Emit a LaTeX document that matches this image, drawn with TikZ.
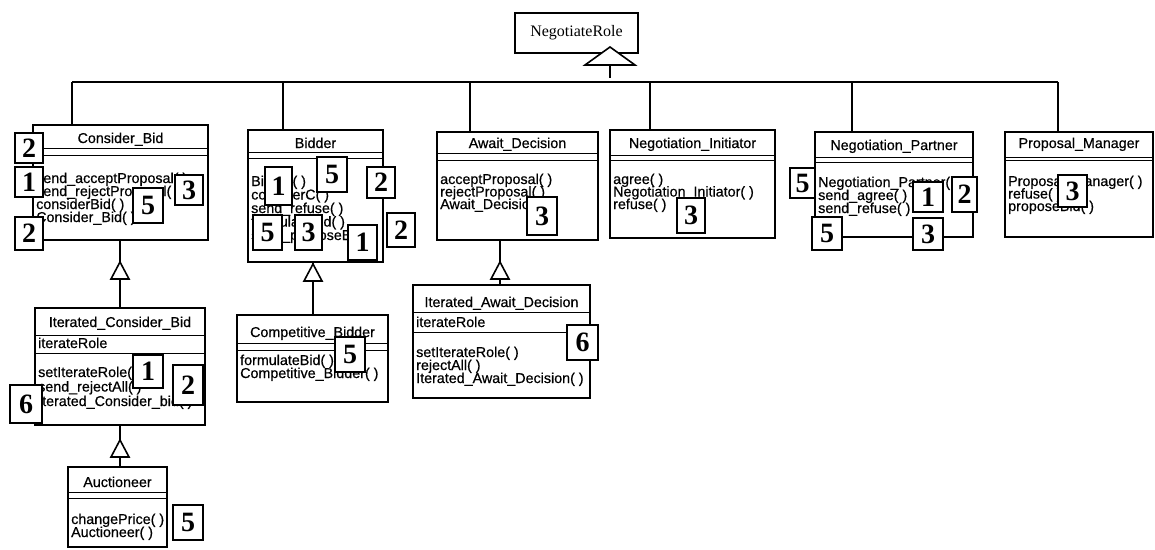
\documentclass[tikz,border=0pt]{standalone}
\usepackage{fontspec}
\setmainfont{Liberation Serif}
\newfontfamily\uisans{Liberation Sans}[FakeBold=0.6]
\usetikzlibrary{calc}

\tikzset{
  cls/.style={draw, line width=2.6pt, outer sep=0pt, inner sep=0pt},
  rootbox/.style={draw, line width=1.4pt, outer sep=0pt, inner sep=0pt,
    font=\fontsize{16}{16}\selectfont},
  ttl/.style={font=\uisans\fontsize{14.3}{14}\selectfont, inner sep=0pt, anchor=base},
  meth/.style={font=\uisans\fontsize{14.3}{14}\selectfont, inner sep=0pt, anchor=base west},
  sepline/.style={line width=0.9pt},
  conn/.style={line width=2pt},
  tag/.style={draw, fill=white, line width=1.3pt, inner sep=0pt, outer sep=0pt,
    font=\bfseries\fontsize{28}{28}\selectfont},
  tri/.style={draw, fill=white, line width=1.6pt, line join=miter}
}

% class rectangle: name, x1, y1, x2, y2, title, title baseline offset
\newcommand\UClass[7]{%
  \node[cls, anchor=north west, minimum width={#4-#2}, minimum height={#5-#3}]
    (#1) at (#2,#3) {};
  \node[ttl] (#1-t) at ($(#1.north)+(0,#7)$) {#6};}
% horizontal compartment line at an offset below the top edge
\newcommand\USep[2]{%
  \draw[sepline] ($(#1.north west)+(0,#2)$) -- ($(#1.north east)+(0,#2)$);}
% list of members: name, x, first baseline, step, items
\newcommand\UMeth[5]{%
  \foreach \t [count=\i from 0] in {#5}
    \node[meth] (#1-m\i) at (#2, #3+#4*\i) {\t};}
% numbered tag: name, x1, y1, x2, y2, digit
\newcommand\UTag[6]{%
  \node[tag, minimum width={#4-#2}, minimum height={#5-#3}]
    (#1) at ({(#2+#4)/2},{(#3+#5)/2}) {#6};}
% generalisation triangle: name, x, apex y, half width, height
\newcommand\UTri[5]{%
  \coordinate (#1-apex) at (#2,#3);
  \coordinate (#1-base) at (#2,#3+#5);
  \draw[tri] (#1-apex) -- ++(-#4,#5) -- ++(2*#4,0) -- cycle;}

\begin{document}
\begin{tikzpicture}[x=1pt,y=-1pt]
\useasboundingbox (0,0) rectangle (1155,549);

% ---------- root class ----------
\node[rootbox, minimum width=123pt, minimum height=40pt] (root) at (576.5,33) {NegotiateRole};

% ---------- class boxes ----------
\UClass{cb}{33}{125}{208}{240}{Consider\_Bid}{18}
\USep{cb}{23}\USep{cb}{30}
\UMeth{cb}{36}{183}{13}{send\_acceptProposal( ),send\_rejectProposal( ),considerBid( ),Consider\_Bid( )}

\UClass{bid}{248}{130}{383}{262}{Bidder}{18}
\USep{bid}{22}\USep{bid}{28}
\UMeth{bid}{251}{186}{13.5}{Bidder( ),considerC( ),send\_refuse( ),formulateBid( ),send\_proposeBid( )}

\UClass{ad}{437}{132}{598}{240}{Await\_Decision}{16}
\USep{ad}{21}\USep{ad}{28}
\UMeth{ad}{440}{184}{12.5}{acceptProposal( ),rejectProposal( ),Await\_Decision( )}

\UClass{ni}{610}{130}{775}{238}{Negotiation\_Initiator}{18}
\USep{ni}{25}\USep{ni}{30}
\UMeth{ni}{613}{184}{12.5}{agree( ),Negotiation\_Initiator( ),refuse( )}

\UClass{np}{815}{132}{973}{237}{Negotiation\_Partner}{18}
\USep{np}{25}\USep{np}{30}
\UMeth{np}{818}{187}{13}{Negotiation\_Partner( ),send\_agree( ),send\_refuse( )}

\UClass{pm}{1005}{132}{1153}{237}{Proposal\_Manager}{16}
\USep{pm}{25}\USep{pm}{28}
\UMeth{pm}{1008}{186}{12.5}{Proposal\_Manager( ),refuse( ),proposeBid( )}

\UClass{icb}{35}{308}{205}{425}{Iterated\_Consider\_Bid}{19}
\USep{icb}{27}\USep{icb}{45}
\node[meth] (icb-a) at (38,348) {iterateRole};
\UMeth{icb}{38}{377}{14.5}{setIterateRole( ),send\_rejectAll( ),Iterated\_Consider\_bid( )}

\UClass{cbd}{237}{315}{388}{402}{Competitive\_Bidder}{22}
\USep{cbd}{28}\USep{cbd}{35}
\UMeth{cbd}{240}{365}{13}{formulateBid( ),Competitive\_Bidder( )}

\UClass{iad}{413}{285}{590}{398}{Iterated\_Await\_Decision}{22}
\USep{iad}{27}\USep{iad}{47}
\node[meth] (iad-a) at (416,327) {iterateRole};
\UMeth{iad}{416}{357}{13}{setIterateRole( ),rejectAll( ),Iterated\_Await\_Decision( )}

\UClass{auc}{68}{467}{167}{547}{Auctioneer}{20}
\USep{auc}{25}\USep{auc}{31}
\UMeth{auc}{71}{524}{13}{changePrice( ),Auctioneer( )}

% ---------- generalisation hierarchy ----------
\coordinate (j1) at (72,82);
\coordinate (j2) at (283,82);
\coordinate (j3) at (470,82);
\coordinate (j4) at (650,82);
\coordinate (j5) at (852,82);
\coordinate (j6) at (1058,82);
\coordinate (stubend) at (610,78);
\draw[conn] (j1) -- (j6);
\draw[conn] (j1) -- (j1 |- cb.north);
\draw[conn] (j2) -- (j2 |- bid.north);
\draw[conn] (j3) -- (j3 |- ad.north);
\draw[conn] (j4) -- (j4 |- ni.north);
\draw[conn] (j5) -- (j5 |- np.north);
\draw[conn] (j6) -- (j6 |- pm.north);

\UTri{t0}{610}{47}{25}{18}
\draw[conn] (t0-base) -- (stubend);

\UTri{t1}{120}{262}{9}{17}
\UTri{t2}{313}{264}{9}{17}
\UTri{t3}{500}{262}{9}{17}
\UTri{t4}{120}{440}{9}{17}
\draw[conn] (t1-apex |- cb.south) -- (t1-apex);
\draw[conn] (t1-base) -- (t1-base |- icb.north);
\draw[conn] (t2-apex |- bid.south) -- (t2-apex);
\draw[conn] (t2-base) -- (t2-base |- cbd.north);
\draw[conn] (t3-apex |- ad.south) -- (t3-apex);
\draw[conn] (t3-base) -- (t3-base |- iad.north);
\draw[conn] (t4-apex |- icb.south) -- (t4-apex);
\draw[conn] (t4-base) -- (t4-base |- auc.north);

% ---------- numbered tags ----------
\UTag{a1}{15}{133}{43}{163}{2}
\UTag{a2}{15}{167}{43}{197}{1}
\UTag{a3}{175}{175}{203}{205}{3}
\UTag{a4}{133}{188}{163}{223}{5}
\UTag{a5}{15}{217}{43}{250}{2}

\UTag{b1}{265}{167}{292}{205}{1}
\UTag{b2}{317}{157}{347}{192}{5}
\UTag{b3}{367}{167}{395}{198}{2}
\UTag{b4}{387}{213}{415}{247}{2}
\UTag{b5}{253}{215}{282}{250}{5}
\UTag{b6}{295}{215}{322}{250}{3}
\UTag{b7}{348}{225}{377}{260}{1}

\UTag{c1}{527}{197}{557}{235}{3}
\UTag{d1}{677}{198}{705}{233}{3}

\UTag{e1}{790}{168}{815}{198}{5}
\UTag{e2}{913}{182}{943}{212}{1}
\UTag{e3}{952}{177}{977}{212}{2}
\UTag{e4}{812}{217}{842}{250}{5}
\UTag{e5}{913}{218}{943}{250}{3}

\UTag{f1}{1058}{175}{1087}{207}{3}

\UTag{g1}{133}{355}{163}{388}{1}
\UTag{g2}{173}{365}{203}{405}{2}
\UTag{g3}{10}{385}{42}{423}{6}

\UTag{h1}{335}{337}{365}{372}{5}
\UTag{i1}{567}{325}{598}{360}{6}
\UTag{k1}{173}{505}{203}{540}{5}
\end{tikzpicture}
\end{document}
